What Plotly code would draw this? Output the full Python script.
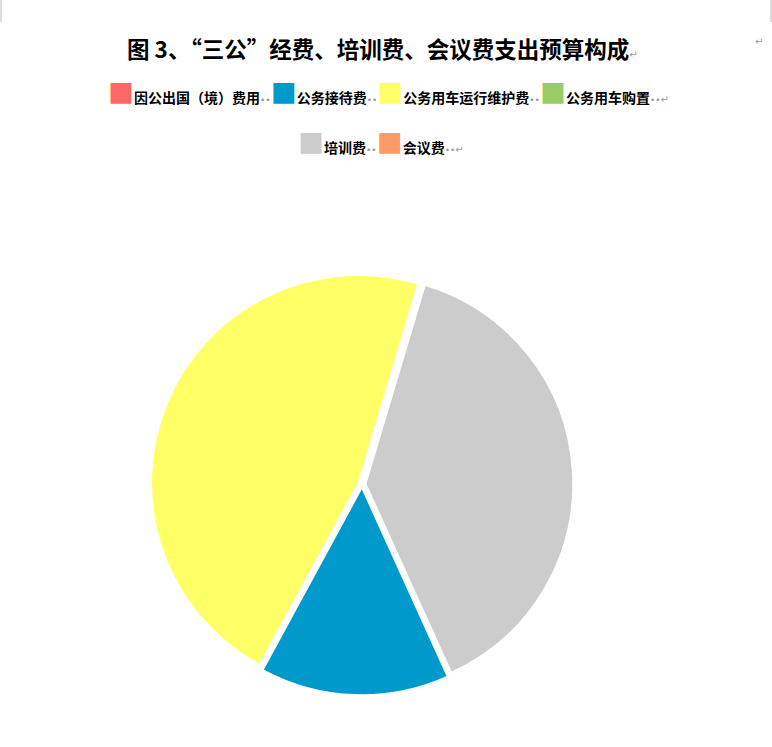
import plotly.graph_objects as go

W, H = 772, 747

title_text = "图 3、“三公”经费、培训费、会议费支出预算构成"
labels = ["因公出国（境）费用", "公务接待费", "公务用车运行维护费", "公务用车购置", "培训费", "会议费"]
values = [0, 14.7, 46.7, 0, 38.6, 0]
colors = ["#FF6666", "#0099CC", "#FFFF66", "#99CC66", "#CCCCCC", "#FF9966"]
legend_rows = [[0, 1, 2, 3], [4, 5]]

cjk = "Noto Sans CJK SC"
mark = "#999999"
dots = f"<span style='font-family:DejaVu Sans;font-size:9px;color:{mark}'>••</span>"
ret = f"<span style='font-family:DejaVu Sans;color:{mark};font-size:10px'>↵</span>"

fig = go.Figure()

# pie, centre ~ (362, 484) px, radius ~211 px
cx, cy, r = 362, 484, 211
fig.add_trace(go.Pie(
    labels=labels,
    values=values,
    sort=False,
    direction="clockwise",
    rotation=155.6,
    pull=0.018,
    marker=dict(colors=colors, line=dict(color="white", width=1.5)),
    textinfo="none",
    showlegend=False,
    domain=dict(x=[(cx - r) / W, (cx + r) / W], y=[(H - cy - r) / H, (H - cy + r) / H]),
))

# legend rows drawn as centred text (two rows like the original)
row_pos = [(388, 92), (381, 141)]
for row, (lx, ly) in zip(legend_rows, row_pos):
    parts = []
    for i in row:
        parts.append(f"<span style='font-size:26px;color:{colors[i]}'>■</span>"
                     f"<b>{labels[i]}</b>{dots}")
    txt = "".join(parts) + ret
    fig.add_annotation(x=lx / W, y=1 - ly / H, xref="paper", yref="paper",
                       text=txt, showarrow=False, xanchor="center", yanchor="middle",
                       font=dict(family=cjk, size=14, color="#000000"))

fig.add_annotation(x=382 / W, y=1 - 48 / H, xref="paper", yref="paper",
                   text=f"<b>{title_text}</b>{ret}",
                   showarrow=False, xanchor="center", yanchor="middle",
                   font=dict(family=cjk, size=22.5, color="#000000"))
fig.add_annotation(x=765 / W, y=1 - 34 / H, xref="paper", yref="paper",
                   text="↵", showarrow=False, font=dict(family="DejaVu Sans", size=10, color=mark))

# page corner marks
for x0 in (1, 771):
    fig.add_shape(type="line", xref="paper", yref="paper",
                  x0=x0 / W, x1=x0 / W, y0=1, y1=1 - 22 / H,
                  line=dict(color="#BBBBBB", width=1))

fig.update_layout(
    width=W, height=H,
    margin=dict(l=0, r=0, t=0, b=0),
    paper_bgcolor="white",
    plot_bgcolor="white",
    font=dict(family=cjk),
)

fig.write_html("out.html", config={"displayModeBar": False},
               post_script="document.body.style.margin='0';")
